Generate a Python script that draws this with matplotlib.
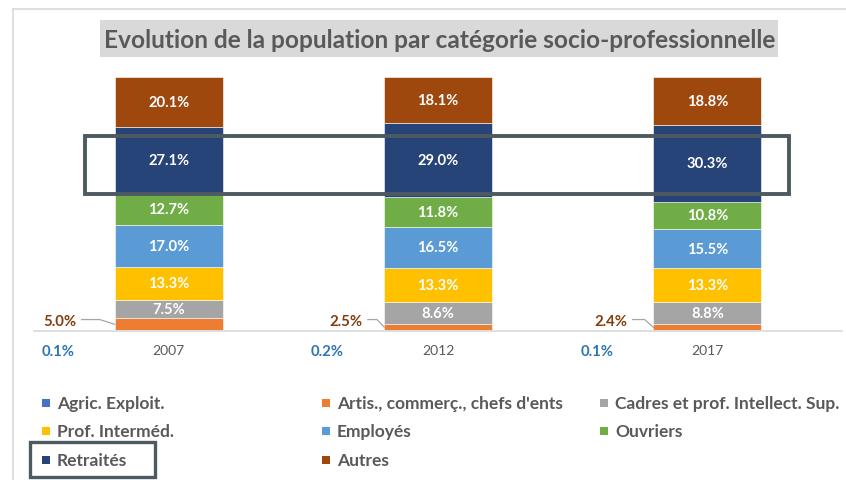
import numpy as np
import matplotlib
matplotlib.use("Agg")
import matplotlib.pyplot as plt
from matplotlib.patches import Rectangle
from matplotlib.lines import Line2D

# ---------------- data ----------------
years = ["2007", "2012", "2017"]
series_names = ["Agric. Exploit.", "Artis., commerç., chefs d'ents",
                "Cadres et prof. Intellect. Sup.", "Prof. Interméd.",
                "Employés", "Ouvriers", "Retraités", "Autres"]
agric = [0.1, 0.2, 0.1]
artis = [5.0, 2.5, 2.4]
cadres = [7.5, 8.6, 8.8]
prof_interm = [13.3, 13.3, 13.3]
employes = [17.0, 16.5, 15.5]
ouvriers = [12.7, 11.8, 10.8]
retraites = [27.1, 29.0, 30.3]
autres = [20.1, 18.1, 18.8]
title = "Evolution de la population par catégorie socio-professionnelle"

colors = ["#4472C4", "#ED7D31", "#A5A5A5", "#FFC000",
          "#5B9BD5", "#70AD47", "#264478", "#9E480E"]

series = [agric, artis, cadres, prof_interm, employes, ouvriers, retraites, autres]
vals = np.array(series, dtype=float)
totals = vals.sum(axis=0)
shares = vals / totals * 100.0   # 100% stacked

W, H = 846, 481
FONT = "Lato"
plt.rcParams['font.family'] = [FONT, 'DejaVu Sans']

fig = plt.figure(figsize=(W / 100, H / 100), dpi=100)
renderer = fig.canvas.get_renderer()


def fx(px):
    return px / W


def fy(py):
    return 1 - py / H


def fit_size(text, weight, target_px, base=12):
    tt = fig.text(0, 0, text, fontsize=base, fontweight=weight)
    w = tt.get_window_extent(renderer=renderer).width
    tt.remove()
    return base * target_px / w


lab_fs = fit_size("20.1%", "bold", 41)
out_fs = fit_size("5.0%", "bold", 33)
year_fs = fit_size("2007", "normal", 32)
leg_fs = fit_size("Cadres et prof. Intellect. Sup.", "bold", 223)
title_fs = fit_size(title, "bold", 667)

# chart-area frame (left + top visible)
fig.add_artist(Line2D([fx(13), fx(13)], [fy(10), 0], color="#D9D9D9", lw=1.2))
fig.add_artist(Line2D([fx(13), 1], [fy(10), fy(10)], color="#D9D9D9", lw=1.2))

ax = fig.add_axes([fx(34), fy(331.7), fx(842) - fx(34), fy(78.3) - fy(331.7)])
ax.set_xlim(-0.5, 2.5)
ax.set_ylim(0, 100)
for s in ["top", "right", "left"]:
    ax.spines[s].set_visible(False)
ax.spines["bottom"].set_color("#D9D9D9")
ax.spines["bottom"].set_linewidth(1.2)
ax.set_yticks([])

x = np.arange(len(years))
bw = 0.40
bottom = np.zeros(len(years))
containers = []
for k, name in enumerate(series_names):
    c = ax.bar(x, shares[k], bw, bottom=bottom, color=colors[k],
               edgecolor="white", linewidth=0.4, label=name)
    containers.append(c)
    if k >= 2:
        for i in range(len(years)):
            ax.text(x[i], bottom[i] + shares[k][i] / 2, f"{vals[k][i]:.1f}%",
                    ha="center", va="center", color="white",
                    fontsize=lab_fs, fontweight="bold")
    bottom = bottom + shares[k]

ax.set_xticks(x)
ax.set_xticklabels(years, fontsize=year_fs, color="#595959")
ax.tick_params(axis="x", length=0, pad=9.5)

# outside labels: Agric (below axis) and Artis (left, with leader line)
ppx = 269.0          # px per x unit
ppy = 253.4 / 100.0  # px per y unit
agric_dx = -0.41
artis_dx = [-0.405, -0.342, -0.359]
artis_knee = [18, 9, 12]
for i in range(len(years)):
    ax.text(x[i] + agric_dx, -20.3 / ppy, f"{agric[i]:.1f}%", ha="center",
            va="center", color="#2E75B6", fontsize=out_fs, fontweight="bold")
    lx = x[i] + artis_dx[i]
    ly = 3.9
    ax.text(lx, ly, f"{artis[i]:.1f}%", ha="center", va="center",
            color="#843C0C", fontsize=out_fs, fontweight="bold")
    x0 = lx + 22 / ppx
    x1 = x0 + artis_knee[i] / ppx
    ymid = shares[0][i] + shares[1][i] / 2
    ax.plot([x0, x1, x[i] - bw / 2], [ly + 0.5, ly + 0.5, ymid],
            color="#A6A6A6", lw=0.9, clip_on=False)

# highlight box around "Retraités" band
fig.add_artist(Rectangle((fx(85), fy(195)), fx(789) - fx(85), fy(137) - fy(195),
                         fill=False, edgecolor="#4D5A62", lw=2.8))

# title
fig.add_artist(Rectangle((fx(100), fy(58)), fx(778) - fx(100), fy(21) - fy(58),
                         facecolor="#D9D9D9", edgecolor="none"))
fig.text(fx(439.5), fy(40), title, ha="center", va="center",
         fontsize=title_fs, fontweight="bold", color="#595959")

# legend (row-major, 3 columns)
col_x = [42, 322, 600]
row_y = [404, 432, 461]
for k, name in enumerate(series_names):
    r, c = divmod(k, 3)
    sq = 8
    fig.add_artist(Rectangle((fx(col_x[c]), fy(row_y[r] + sq / 2)), fx(sq), fy(0) - fy(sq),
                             facecolor=containers[k].patches[0].get_facecolor(),
                             edgecolor="none"))
    fig.text(fx(col_x[c] + 15), fy(row_y[r]), name, ha="left", va="center",
             fontsize=leg_fs, fontweight="bold", color="#595959")

# box around "Retraités" legend entry
fig.add_artist(Rectangle((fx(30), fy(478)), fx(155) - fx(30), fy(443) - fy(478),
                         fill=False, edgecolor="#4D5A62", lw=2.4))

fig.savefig("out.png", dpi=100)
